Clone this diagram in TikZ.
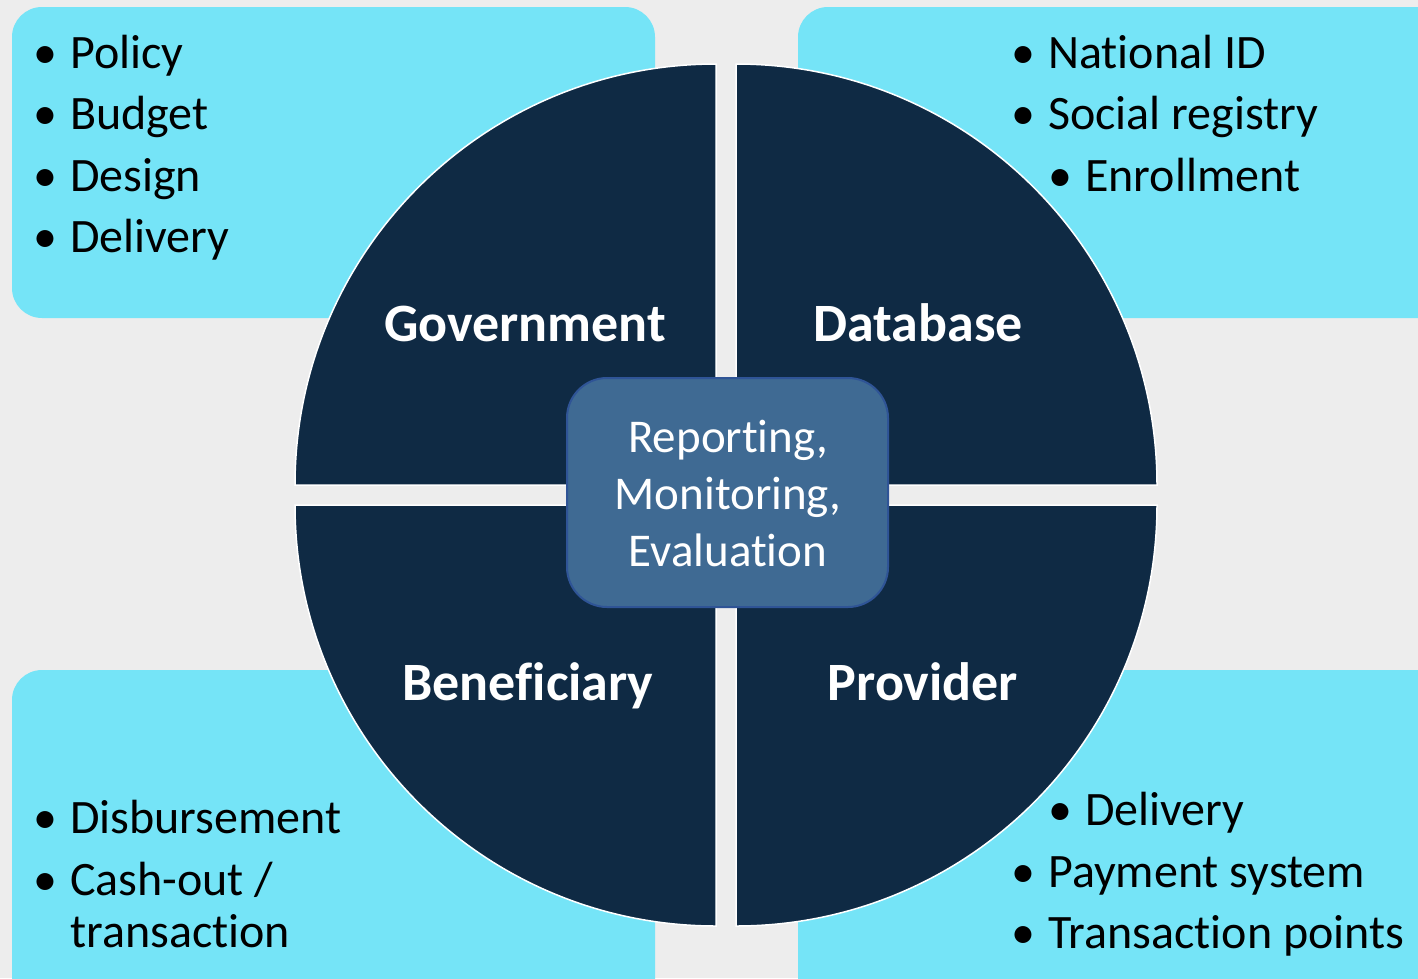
\documentclass[tikz,border=0pt]{standalone}
\usepackage{fontspec}
\setmainfont{Carlito}[Ligatures={NoCommon,NoRare,NoContextual}]
\definecolor{bgray}{HTML}{EDEDED}
\definecolor{cyanbox}{HTML}{75E4F7}
\definecolor{navy}{HTML}{0F2A44}
\definecolor{hubfill}{HTML}{3F6A93}
\definecolor{hubline}{HTML}{2F5496}
\newcommand\blt[1]{\makebox[37pt][l]{•}#1}
\tikzset{
  infobox/.style={fill=cyanbox, rounded corners=30pt},
  quarter/.style={fill=navy, draw=white, line width=1.5pt},
  listitem/.style={anchor=base west, inner sep=0pt, text=black,
    font=\fontsize{48}{56}\selectfont},
  sector/.style={anchor=base, inner sep=0pt, text=white,
    font=\fontsize{54}{64}\selectfont\bfseries},
  hub/.style={fill=hubfill, draw=hubline, line width=2pt, rounded corners=40pt},
  hubtext/.style={anchor=base, inner sep=0pt, text=white,
    font=\fontsize{47}{56}\selectfont}
}
\begin{document}
\begin{tikzpicture}[x=1pt,y=1pt]
  \useasboundingbox (0,0) rectangle (1418,-978);
  \clip (0,0) rectangle (1418,-978);
  \fill[bgray] (0,0) rectangle (1418,-978);

  % corner panels
  \fill[infobox] (12,-7) rectangle (655,-318);
  \fill[infobox] (798,-7) rectangle (1460,-318);
  \fill[infobox] (12,-670) rectangle (655,-1010);
  \fill[infobox] (798,-670) rectangle (1460,-1010);

  % four quarter discs
  \draw[quarter] (716,-485) -- ++(-421,0) arc[start angle=180, end angle=90, radius=421] -- cycle;
  \draw[quarter] (736,-485) -- ++(0,421) arc[start angle=90, end angle=0, radius=421] -- cycle;
  \draw[quarter] (716,-505) -- ++(-421,0) arc[start angle=180, end angle=270, radius=421] -- cycle;
  \draw[quarter] (736,-505) -- ++(421,0) arc[start angle=0, end angle=-90, radius=421] -- cycle;

  % sector titles
  \node[sector] (gov) at (525,-341) {Government};
  \node[sector] (db)  at (918,-341) {Database};
  \node[sector] (ben) at (528,-700) {Beneficiary};
  \node[sector] (prov) at (923,-700) {Provider};

  % central hub
  \fill[hub] (567,-378) rectangle (888,-607);
  \node[hubtext] (rep) at (728,-452) {Reporting,};
  \node[hubtext] (mon) at (728,-509) {Monitoring,};
  \node[hubtext] (eva) at (728,-566) {Evaluation};

  % government items
  \node[listitem] (g1) at (33,-68)  {\blt{Policy}};
  \node[listitem] (g2) at (33,-129) {\blt{Budget}};
  \node[listitem] (g3) at (33,-191) {\blt{Design}};
  \node[listitem] (g4) at (33,-252) {\blt{Delivery}};

  % database items
  \node[listitem] (d1) at (1011,-68)  {\blt{National ID}};
  \node[listitem] (d2) at (1011,-129) {\blt{Social registry}};
  \node[listitem] (d3) at (1048,-191) {\blt{Enrollment}};

  % beneficiary items
  \node[listitem] (b1) at (33,-833) {\blt{Disbursement}};
  \node[listitem] (b2) at (33,-895) {\blt{Cash-out /}};
  \node[listitem] (b3) at (70,-947) {transaction};

  % provider items
  \node[listitem] (p1) at (1048,-825) {\blt{Delivery}};
  \node[listitem] (p2) at (1011,-887) {\blt{Payment system}};
  \node[listitem] (p3) at (1011,-948) {\blt{Transaction points}};
\end{tikzpicture}
\end{document}
